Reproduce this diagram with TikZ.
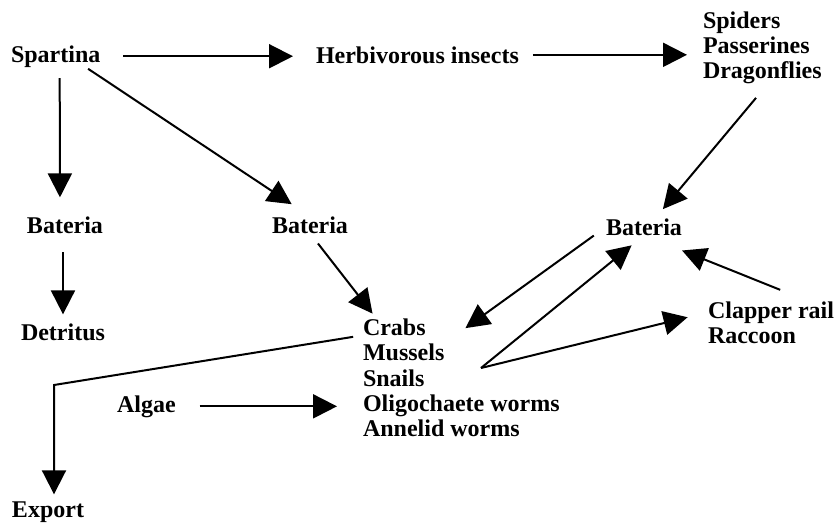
\documentclass[tikz,border=0pt]{standalone}
\usepackage{fontspec}
\setmainfont{Liberation Serif}
\usetikzlibrary{arrows.meta}

\begin{document}
\begin{tikzpicture}[x=1pt, y=-1pt,
  every node/.style={anchor=base west, inner sep=0pt, outer sep=0pt,
    font=\fontsize{24}{25}\selectfont\bfseries},
  flow/.style={-{Triangle[length=24pt, width=24pt]}, line width=2pt}]
\fill[white] (0,0) rectangle (837,523);

\node (spartina) at (11,62) {Spartina};
\node (herb) at (316,63) {Herbivorous insects};
\node (spiders) at (703,28) {Spiders};
\node (passerines) at (703,53) {Passerines};
\node (dragonflies) at (703,78) {Dragonflies};
\node (batL) at (27,233) {Bateria};
\node (batM) at (272,233) {Bateria};
\node (batR) at (606,235) {Bateria};
\node (detritus) at (21,340) {Detritus};
\node (crabs) at (363,335) {Crabs};
\node (mussels) at (363,360) {Mussels};
\node (snails) at (363,386) {Snails};
\node (oligo) at (363,411) {Oligochaete worms};
\node (annelid) at (363,436) {Annelid worms};
\node (clapper) at (708,318) {Clapper rail};
\node (raccoon) at (708,343) {Raccoon};
\node (algae) at (117,412) {Algae};
\node (export) at (12,517) {Export};

\coordinate (fork) at (481,368);
\coordinate (bend) at (54,385);

\draw[flow, shorten <=23pt, shorten >=23pt] (spartina.east) -- (spartina.east -| herb.west);
\draw[flow, shorten <=14pt, shorten >=16pt] (herb.east) -- (herb.east -| passerines.west);
\draw[flow, shorten <=11pt, shorten >=19pt] ([xshift=4pt]spartina.south) -- ([xshift=-5pt]batL.north);
\draw[flow, shorten <=3pt, shorten >=22pt] (spartina.-20) -- (batM.north);
\draw[flow, shorten <=19pt, shorten >=9pt] (batL.south -| detritus.north) -- (detritus.north);
\draw[flow, shorten <=13pt, shorten >=6pt] (batM.south) -- (crabs.155);
\draw[flow, shorten <=19pt, shorten >=12pt] (dragonflies.-62) -- (batR.37);
\draw[flow, shorten <=15pt, shorten >=26pt] (batR.west) -- (mussels.north east);
\draw[flow, shorten >=16pt] (fork) -- (batR.south);
\draw[flow, shorten >=21pt] (fork) -- (clapper.west);
\draw[flow, shorten <=31pt, shorten >=41pt] (clapper.16) -- (batR.south);
\draw[flow, shorten <=24pt, shorten >=26pt] (algae.east) -- (algae.east -| oligo.west);
\draw[flow, shorten <=10pt, shorten >=7pt] (crabs.south west) -- (bend) -- (bend |- export.north);
\end{tikzpicture}
\end{document}
